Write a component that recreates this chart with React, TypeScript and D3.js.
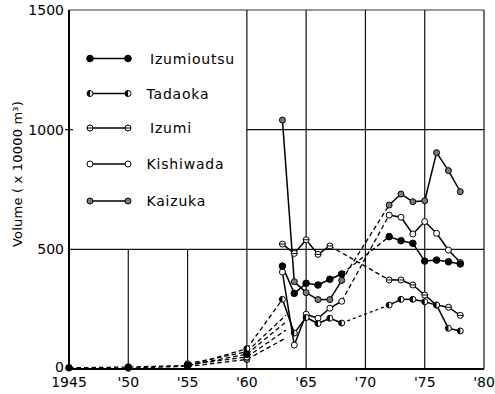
import React from "react";
import * as d3 from "d3";

const seriesNames = ["Izumioutsu", "Tadaoka", "Izumi", "Kishiwada", "Kaizuka"];
const markerKinds = ["filled", "half", "bar", "open", "grey"];

const earlyYears = [1945, 1950, 1955, 1960];
const earlyIzumioutsu = [5, 8, 15, 62];
const earlyTadaoka = [null, 3, 12, 85];
const earlyIzumi = [null, null, 18, 50];
const earlyKishiwada = [null, null, 22, 72];
const earlyKaizuka = [null, null, 10, 40];

// where each 1960 dashed connector stops (null = joins the 1963 point)
const bridgeYear = 1963.3;
const bridgeEnd = [197, null, 163, 225, 130];

const mainYears = [1963, 1964, 1965, 1966, 1967, 1968, 1972, 1973, 1974, 1975, 1976, 1977, 1978];
const izumioutsu = [430, 316, 358, 351, 375, 397, 553, 536, 525, 451, 455, 448, 439];
const tadaoka = [291, 150, 215, 190, 212, 192, 267, 291, 291, 281, 267, 170, 159];
const izumi = [522, 483, 540, 479, 514, null, 372, 372, 351, 309, 267, 258, 224];
const kishiwada = [405, 100, 229, 212, 254, 283, 643, 634, 564, 616, 567, 497, 445];
const kaizuka = [1040, 365, 319, 290, 290, 370, 685, 731, 699, 703, 904, 829, 741];

const yTicks = [0, 500, 1000, 1500];
const xTicks = [1945, 1950, 1955, 1960, 1965, 1970, 1975, 1980];
const xTickLabels = ["1945", "'50", "'55", "'60", "'65", "'70", "'75", "'80"];

const earlyAll = [earlyIzumioutsu, earlyTadaoka, earlyIzumi, earlyKishiwada, earlyKaizuka];
const mainAll = [izumioutsu, tadaoka, izumi, kishiwada, kaizuka];

const W = 495;
const H = 394;
const x = d3.scaleLinear().domain([1945, 1980]).range([69, 484]);
const y = d3.scaleLinear().domain([0, 1500]).range([369, 10]);

const FONT = "DejaVu Sans, sans-serif";

function Marker({ kind, cx, cy }: { kind: string; cx: number; cy: number }) {
  const r = 3;
  if (kind === "filled") return <circle cx={cx} cy={cy} r={r + 0.3} fill="#000" stroke="#000" strokeWidth={1} />;
  if (kind === "grey") return <circle cx={cx} cy={cy} r={r} fill="#7a7a7a" stroke="#000" strokeWidth={1} />;
  if (kind === "open") return <circle cx={cx} cy={cy} r={r} fill="#fff" stroke="#000" strokeWidth={1} />;
  if (kind === "bar")
    return (
      <g>
        <circle cx={cx} cy={cy} r={r} fill="#fff" stroke="#000" strokeWidth={1} />
        <line x1={cx - r} x2={cx + r} y1={cy} y2={cy} stroke="#000" strokeWidth={1} />
      </g>
    );
  // half
  return (
    <g>
      <circle cx={cx} cy={cy} r={r} fill="#fff" stroke="#000" strokeWidth={1} />
      <path d={`M${cx},${cy - r} A${r},${r} 0 0 0 ${cx},${cy + r} Z`} fill="#000" />
    </g>
  );
}

type Pt = { yr: number; v: number };

export default function App() {
  const line = d3
    .line<Pt>()
    .x((d) => x(d.yr))
    .y((d) => y(d.v));

  const segs: { d: string; dashed: boolean; fine: boolean }[] = [];
  const markers: { kind: string; cx: number; cy: number }[][] = [];

  seriesNames.forEach((_, si) => {
    const ms: { kind: string; cx: number; cy: number }[] = [];
    const early: Pt[] = [];
    earlyYears.forEach((yr, i) => {
      const v = earlyAll[si][i];
      if (v != null) early.push({ yr, v });
    });
    const main: Pt[] = [];
    mainYears.forEach((yr, i) => {
      const v = mainAll[si][i];
      if (v != null) main.push({ yr, v });
    });
    const bridge: Pt[] = [early[early.length - 1]];
    if (bridgeEnd[si] == null) bridge.push(main[0]);
    else bridge.push({ yr: bridgeYear, v: bridgeEnd[si] as number });
    segs.push({ d: line(early) || "", dashed: true, fine: false });
    segs.push({ d: line(bridge) || "", dashed: true, fine: false });
    for (let i = 1; i < main.length; i++) {
      const a = main[i - 1];
      const b = main[i];
      const dashed = b.yr - a.yr > 1;
      segs.push({ d: line([a, b]) || "", dashed, fine: dashed && si === 1 });
    }
    early.forEach((p) => ms.push({ kind: markerKinds[si], cx: x(p.yr), cy: y(p.v) }));
    main.forEach((p) => ms.push({ kind: markerKinds[si], cx: x(p.yr), cy: y(p.v) }));
    markers.push(ms);
  });

  const x0 = x(1945);
  const x1 = x(1980);
  const y0 = y(0);
  const gridColor = "#111";

  return (
    <svg width={W} height={H} style={{ position: "absolute", left: 0, top: 0, background: "#fff" }}>
      {/* frame and grid */}
      <line x1={x0} x2={x1} y1={y(1500)} y2={y(1500)} stroke="#333" strokeWidth={1} />
      <line x1={x0} x2={x1} y1={y(500)} y2={y(500)} stroke={gridColor} strokeWidth={1.2} />
      <line x1={x(1960)} x2={x1} y1={y(1000)} y2={y(1000)} stroke={gridColor} strokeWidth={1.2} />
      <line x1={x0 - 4} x2={x0 + 4} y1={y(1000)} y2={y(1000)} stroke={gridColor} strokeWidth={1.2} />
      {xTicks.slice(1).map((t) => (
        <line
          key={t}
          x1={x(t)}
          x2={x(t)}
          y1={t < 1960 ? y(500) : y(1500)}
          y2={y0}
          stroke={gridColor}
          strokeWidth={1.2}
        />
      ))}
      <line x1={x0} x2={x0} y1={y(1500)} y2={y0 + 1} stroke="#000" strokeWidth={2} />
      <line x1={x0} x2={x1} y1={y0} y2={y0} stroke="#000" strokeWidth={2} />

      {/* y tick labels */}
      {yTicks.map((t) => (
        <text
          key={t}
          x={64}
          y={t === 0 ? y(t) - 2.5 : y(t)}
          dy="0.36em"
          textAnchor="end"
          fontFamily={FONT}
          fontSize={14}
          fill="#000"
        >
          {t}
        </text>
      ))}
      {/* x tick labels */}
      {xTicks.map((t, i) => (
        <text key={t} x={x(t)} y={387} textAnchor="middle" fontFamily={FONT} fontSize={14} fill="#000">
          {xTickLabels[i]}
        </text>
      ))}
      {/* y axis title */}
      <text
        transform={`translate(22,174) rotate(-90)`}
        textAnchor="middle"
        fontFamily={FONT}
        fontSize={13}
        fill="#000"
        letterSpacing={0.2}
      >
        Volume ( x 10000 m³)
      </text>

      {/* series lines */}
      {segs.map((s, i) => (
        <path
          key={i}
          d={s.d}
          fill="none"
          stroke="#000"
          strokeWidth={s.dashed ? 1.3 : 1.5}
          strokeDasharray={s.dashed ? (s.fine ? "3,3" : "4.5,3") : undefined}
        />
      ))}
      {/* markers, Izumioutsu drawn last */}
      {[4, 3, 2, 1, 0].map((si) =>
        markers[si].map((m, j) => <Marker key={`${si}-${j}`} kind={m.kind} cx={m.cx} cy={m.cy} />)
      )}

      {/* legend */}
      {seriesNames.map((name, i) => {
        const ly = [58.5, 93.5, 128, 164, 201][i];
        return (
          <g key={name}>
            <line x1={90} x2={128} y1={ly} y2={ly} stroke="#000" strokeWidth={1.5} />
            <Marker kind={markerKinds[i]} cx={90} cy={ly} />
            <Marker kind={markerKinds[i]} cx={128} cy={ly} />
            <text
              x={i === 0 || i === 2 ? 150 : 146.5}
              y={ly}
              dy="0.36em"
              fontFamily={FONT}
              fontSize={14}
              letterSpacing={0.8}
              fill="#000"
            >
              {name}
            </text>
          </g>
        );
      })}
    </svg>
  );
}
